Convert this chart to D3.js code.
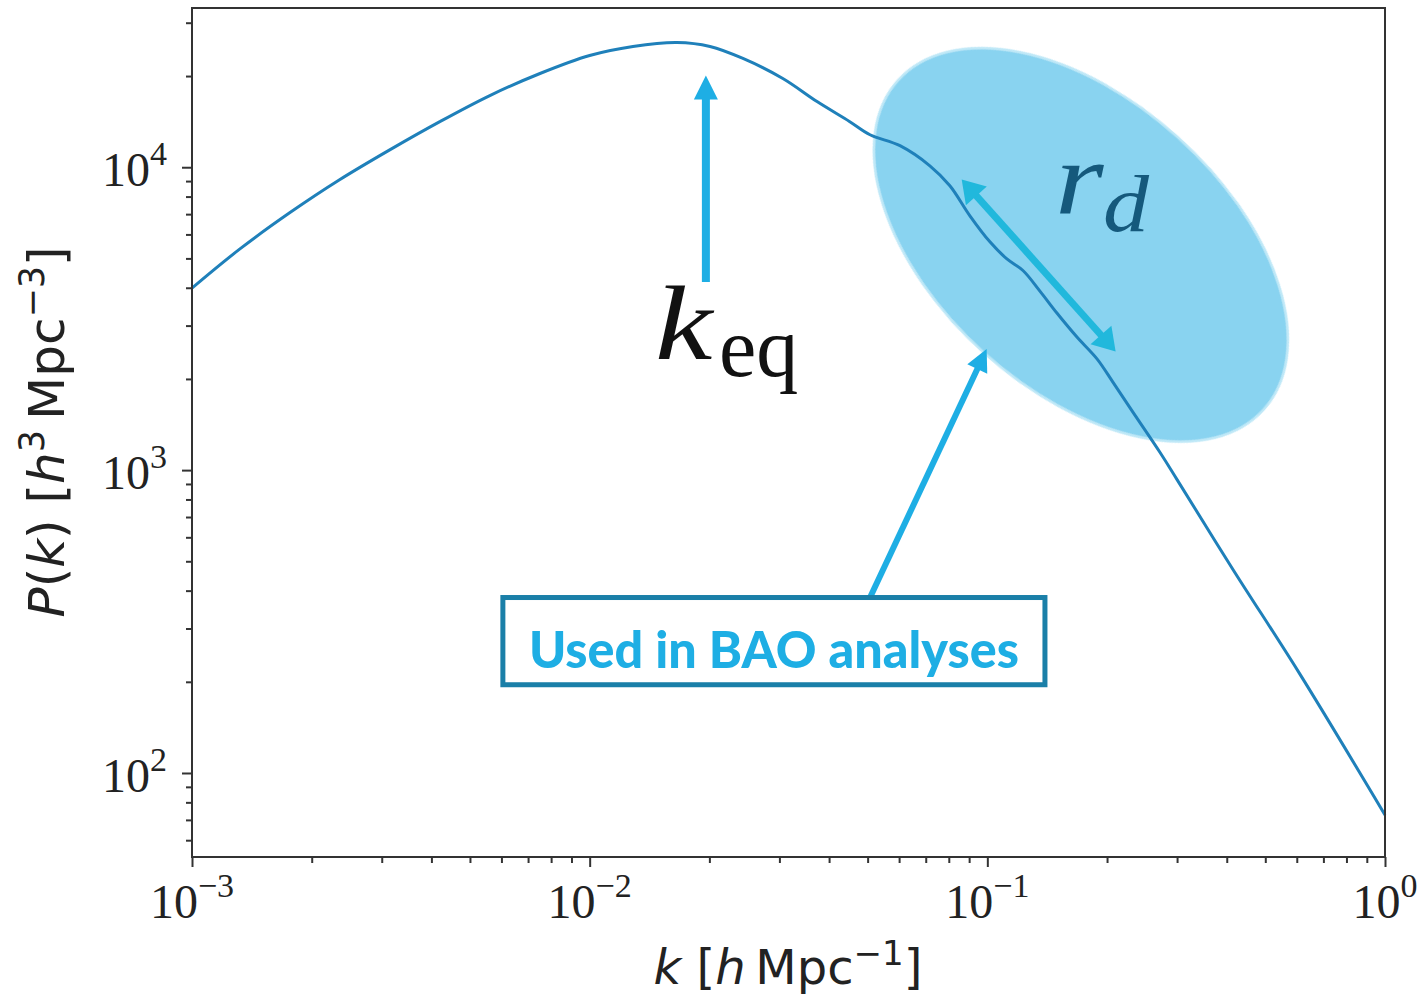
<!DOCTYPE html>
<html>
<head>
<meta charset="utf-8">
<script src="https://cdn.jsdelivr.net/npm/d3@7"></script>
<style>
  body { margin: 0; background: #fff; }
  svg { display: block; }
</style>
</head>
<body>
<svg id="chart" width="1425" height="1000"></svg>
<script>
// power spectrum
const kValues = [0.001, 0.00132, 0.00176, 0.00235, 0.00315, 0.0042, 0.00561, 0.0075, 0.01, 0.01285,
  0.01658, 0.02007, 0.02429, 0.0306, 0.0373, 0.0451, 0.0507, 0.0603, 0.0717, 0.0805,
  0.0904, 0.1015, 0.112, 0.1229, 0.1356, 0.1496, 0.168, 0.1887, 0.2069, 0.2323,
  0.2716, 0.2997, 0.4146, 0.611, 1.0];
const pValues = [3990, 5375, 7070, 9090, 11430, 14140, 17240, 20390, 23380, 25040,
  25810, 25040, 22860, 19630, 16470, 14140, 12800, 11780, 10110, 8685,
  6912, 5670, 4980, 4560, 3900, 3300, 2750, 2330, 1952, 1553,
  1145, 932, 470, 212, 72.7];

const xTickValues = [1e-3, 1e-2, 1e-1, 1];
const xTickExps = ["\u22123", "\u22122", "\u22121", "0"];
const yTickValues = [1e2, 1e3, 1e4];
const yTickExps = ["2", "3", "4"];

// annotation anchors (data coords)
const keqArrow = [[0.0196, 4180], [0.0196, 20080]];
const rdArrow = [[0.0862, 9113], [0.2102, 2466]];
const baoArrow = [[0.0507, 379.6], [0.0996, 2509]];
const baoBox = [[0.00605, 379.6], [0.1396, 195.6]];
const ellipseCenter = [0.1719, 5541];

const svg = d3.select("#chart");
const x = d3.scaleLog().domain([1e-3, 1]).range([192, 1385]);
const y = d3.scaleLog().domain([52.8, 33550]).range([857, 8]);

const axisColor = "#333";
const lineColor = "#1f80ba";
const arrowColor = "#1eaee4";

// minor ticks
const xMinor = [];
[-3, -2, -1].forEach((d) => { for (let m = 2; m <= 9; m++) xMinor.push(m * Math.pow(10, d)); });
const yMinor = [];
[1, 2, 3, 4].forEach((d) => {
  for (let m = 2; m <= 9; m++) {
    const v = m * Math.pow(10, d);
    if (v > y.domain()[0] && v < y.domain()[1]) yMinor.push(v);
  }
});

// soft edge for the highlight ellipse
const defs = svg.append("defs");
defs.append("filter").attr("id", "soft")
  .append("feGaussianBlur").attr("stdDeviation", 0.7);

const cx = x(ellipseCenter[0]), cy = y(ellipseCenter[1]);
svg.append("ellipse")
  .attr("cx", cx).attr("cy", cy)
  .attr("rx", 246).attr("ry", 145)
  .attr("transform", `rotate(42,${cx},${cy})`)
  .attr("fill", "#89d3f0")
  .attr("stroke", "#bfe8f7")
  .attr("stroke-width", 2.5)
  .attr("filter", "url(#soft)");

// curve
const line = d3.line()
  .x((d, i) => x(kValues[i]))
  .y((d, i) => y(pValues[i]))
  .curve(d3.curveCatmullRom.alpha(0.5));

svg.append("path")
  .datum(kValues)
  .attr("d", line)
  .attr("fill", "none")
  .attr("stroke", lineColor)
  .attr("stroke-width", 3);

// frame
svg.append("rect")
  .attr("x", 192).attr("y", 8)
  .attr("width", 1385 - 192).attr("height", 857 - 8)
  .attr("fill", "none")
  .attr("stroke", axisColor)
  .attr("stroke-width", 2);

// axes
const gx = svg.append("g").attr("transform", "translate(0,857)");
gx.call(d3.axisBottom(x).tickValues(xTickValues).tickSize(10).tickFormat(""));
gx.append("g").call(d3.axisBottom(x).tickValues(xMinor).tickSize(6).tickFormat(""));
gx.selectAll(".domain").remove();
gx.selectAll("line").attr("stroke", axisColor).attr("stroke-width", 2);

const gy = svg.append("g").attr("transform", "translate(192,0)");
gy.call(d3.axisLeft(y).tickValues(yTickValues).tickSize(10).tickFormat(""));
gy.append("g").call(d3.axisLeft(y).tickValues(yMinor).tickSize(6).tickFormat(""));
gy.selectAll(".domain").remove();
gy.selectAll("line").attr("stroke", axisColor).attr("stroke-width", 2);

// tick labels
const serif = "'Liberation Serif', 'DejaVu Serif', serif";
xTickValues.forEach((v, i) => {
  const t = svg.append("text")
    .attr("x", x(v)).attr("y", 918)
    .attr("text-anchor", "middle")
    .attr("font-family", serif)
    .attr("font-size", 48)
    .attr("fill", "#222");
  t.append("tspan").text("10");
  t.append("tspan").attr("dy", -21).attr("font-size", 34).text(xTickExps[i]);
});
yTickValues.forEach((v, i) => {
  const t = svg.append("text")
    .attr("x", 167).attr("y", y(v) + 19)
    .attr("text-anchor", "end")
    .attr("font-family", serif)
    .attr("font-size", 48)
    .attr("fill", "#222");
  t.append("tspan").text("10");
  t.append("tspan").attr("dy", -21).attr("font-size", 34).text(yTickExps[i]);
});

// axis titles
const sans = "'DejaVu Sans', sans-serif";
const xt = svg.append("text")
  .attr("x", 788).attr("y", 984)
  .attr("text-anchor", "middle")
  .attr("font-family", sans)
  .attr("font-size", 48)
  .attr("fill", "#222");
xt.append("tspan").attr("font-style", "italic").text("k");
xt.append("tspan").text(" [");
xt.append("tspan").attr("font-style", "italic").text("h");
xt.append("tspan").text("\u2009Mpc");
xt.append("tspan").attr("dy", -19).attr("font-size", 34).text("\u22121");
xt.append("tspan").attr("dy", 19).text("]");

const yt = svg.append("text")
  .attr("transform", "translate(64,432) rotate(-90)")
  .attr("text-anchor", "middle")
  .attr("font-family", sans)
  .attr("font-size", 50)
  .attr("fill", "#222");
yt.append("tspan").attr("font-style", "italic").text("P");
yt.append("tspan").text("(");
yt.append("tspan").attr("font-style", "italic").text("k");
yt.append("tspan").text(") [");
yt.append("tspan").attr("font-style", "italic").text("h");
yt.append("tspan").attr("dy", -20).attr("font-size", 35).text("3");
yt.append("tspan").attr("dy", 20).text("\u2009Mpc");
yt.append("tspan").attr("dy", -20).attr("font-size", 35).text("\u22123");
yt.append("tspan").attr("dy", 20).text("]");

// arrows
function arrow(p1, p2, opts) {
  const x1 = x(p1[0]), y1 = y(p1[1]), x2 = x(p2[0]), y2 = y(p2[1]);
  const len = Math.hypot(x2 - x1, y2 - y1);
  const ux = (x2 - x1) / len, uy = (y2 - y1) / len;
  const nx = -uy, ny = ux;
  const g = svg.append("g").attr("fill", opts.color);
  const head = (tx, ty, dx, dy) => {
    const bx = tx - dx * opts.headLen, by = ty - dy * opts.headLen;
    g.append("polygon").attr("points", [
      [tx, ty],
      [bx + nx * opts.headW / 2, by + ny * opts.headW / 2],
      [bx - nx * opts.headW / 2, by - ny * opts.headW / 2]
    ].map((p) => p.join(",")).join(" "));
  };
  const sx = opts.double ? x1 + ux * (opts.headLen - 2) : x1;
  const sy = opts.double ? y1 + uy * (opts.headLen - 2) : y1;
  g.append("line")
    .attr("x1", sx).attr("y1", sy)
    .attr("x2", x2 - ux * (opts.headLen - 2)).attr("y2", y2 - uy * (opts.headLen - 2))
    .attr("stroke", opts.color).attr("stroke-width", opts.width);
  head(x2, y2, ux, uy);
  if (opts.double) head(x1, y1, -ux, -uy);
}

arrow(keqArrow[0], keqArrow[1], { color: arrowColor, width: 8, headLen: 24, headW: 24 });
arrow(rdArrow[0], rdArrow[1], { color: "#21b8dc", width: 7, headLen: 22, headW: 28, double: true });
arrow(baoArrow[0], baoArrow[1], { color: arrowColor, width: 6, headLen: 22, headW: 22 });

// labels
const kx = x(0.0146), ky = y(2326);
svg.append("text")
  .attr("transform", `translate(${kx},${ky}) scale(1.22,1)`)
  .attr("font-family", serif)
  .attr("font-style", "italic")
  .attr("font-size", 106)
  .attr("fill", "#111")
  .text("k");
svg.append("text")
  .attr("x", kx + 64).attr("y", ky + 17)
  .attr("font-family", serif)
  .attr("font-size", 84)
  .attr("fill", "#111")
  .text("eq");

const rx = x(0.148), ry = y(7015);
svg.append("text")
  .attr("transform", `translate(${rx},${ry}) scale(1.2,1)`)
  .attr("font-family", serif)
  .attr("font-style", "italic")
  .attr("font-size", 104)
  .attr("fill", "#15597c")
  .text("r");
svg.append("text")
  .attr("transform", `translate(${rx + 48},${ry + 17}) scale(1.15,1)`)
  .attr("font-family", serif)
  .attr("font-style", "italic")
  .attr("font-size", 80)
  .attr("fill", "#15597c")
  .text("d");

// BAO box
const bx0 = x(baoBox[0][0]), by0 = y(baoBox[0][1]);
const bx1 = x(baoBox[1][0]), by1 = y(baoBox[1][1]);
svg.append("rect")
  .attr("x", bx0).attr("y", by0)
  .attr("width", bx1 - bx0).attr("height", by1 - by0)
  .attr("fill", "#fff")
  .attr("stroke", "#1a7fa8")
  .attr("stroke-width", 5);
svg.append("text")
  .attr("x", (bx0 + bx1) / 2).attr("y", by0 + 70)
  .attr("text-anchor", "middle")
  .attr("font-family", "Lato, 'Open Sans', sans-serif")
  .attr("font-weight", 900)
  .attr("font-size", 52)
  .attr("textLength", 490)
  .attr("lengthAdjust", "spacingAndGlyphs")
  .attr("fill", "#1eaee4")
  .text("Used in BAO analyses");
</script>
</body>
</html>
